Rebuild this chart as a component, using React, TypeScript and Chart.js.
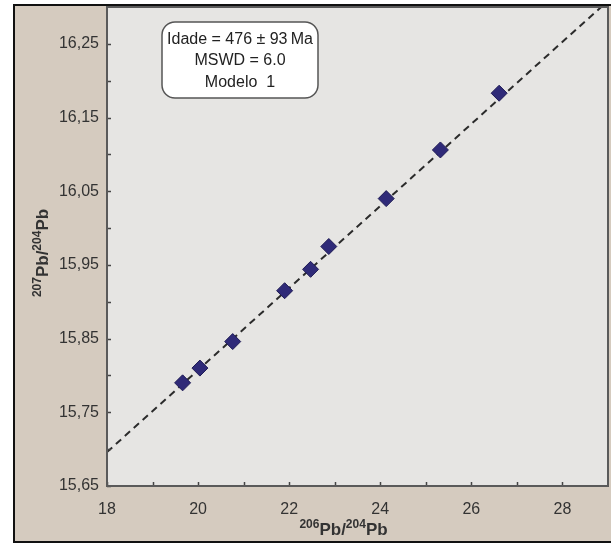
import React, { useEffect, useRef } from "react";
import { Chart, registerables } from "chart.js";

Chart.register(...registerables);

// Data
const sampleX = [19.66, 20.04, 20.76, 21.9, 22.47, 22.87, 24.13, 25.32, 26.61];
const sampleY = [15.79, 15.81, 15.846, 15.915, 15.944, 15.975, 16.04, 16.106, 16.183];

// Isochron fit line endpoints
const fitX = [18, 28.85];
const fitY = [15.696, 16.3];

// Axis ticks
const xTickValues = [18, 20, 22, 24, 26, 28];
const xMinorTicks = [19, 21, 23, 25, 27];
const yTickValues = [15.65, 15.75, 15.85, 15.95, 16.05, 16.15, 16.25];
const yMinorTicks = [15.7, 15.8, 15.9, 16.0, 16.1, 16.2];

const boxLines = ["Idade = 476 \u00b1 93\u2009Ma", "MSWD = 6.0", "Modelo  1"];

const FONT = "'Liberation Sans', Arial, sans-serif";

function drawSupTitle(ctx: CanvasRenderingContext2D, parts: { t: string; sup: boolean }[], cx: number, cy: number, rotate: boolean) {
  ctx.save();
  ctx.translate(cx, cy);
  if (rotate) ctx.rotate(-Math.PI / 2);
  const bigFont = `bold 17px ${FONT}`;
  const smallFont = `bold 12px ${FONT}`;
  let total = 0;
  const widths = parts.map((p) => {
    ctx.font = p.sup ? smallFont : bigFont;
    const w = ctx.measureText(p.t).width;
    total += w;
    return w;
  });
  let x = -total / 2;
  ctx.fillStyle = "#333";
  ctx.textBaseline = "alphabetic";
  ctx.textAlign = "left";
  parts.forEach((p, i) => {
    ctx.font = p.sup ? smallFont : bigFont;
    ctx.fillText(p.t, x, p.sup ? -1 : 6);
    x += widths[i];
  });
  ctx.restore();
}

const decorPlugin = {
  id: "decor",
  beforeDraw(chart: any) {
    const { ctx, chartArea: a, width, height } = chart;
    ctx.save();
    ctx.fillStyle = "#ffffff";
    ctx.fillRect(0, 0, width, height);
    ctx.fillStyle = "#d5cbbf";
    ctx.fillRect(14, 5, width - 14, height - 7);
    ctx.strokeStyle = "#111";
    ctx.lineWidth = 2;
    ctx.strokeRect(14, 5, width + 10, height - 7);
    ctx.fillStyle = "#e6e5e3";
    ctx.fillRect(a.left, a.top, a.right - a.left, a.bottom - a.top);
    ctx.restore();
  },
  afterDraw(chart: any) {
    const { ctx, chartArea: a } = chart;
    const xs = chart.scales.x;
    const ys = chart.scales.y;
    ctx.save();
    // tick marks, inward
    ctx.strokeStyle = "#444";
    ctx.lineWidth = 1.5;
    ctx.beginPath();
    [...xTickValues, ...xMinorTicks].forEach((v) => {
      const px = Math.round(xs.getPixelForValue(v)) + 0.5;
      ctx.moveTo(px, a.bottom);
      ctx.lineTo(px, a.bottom - 4);
    });
    [...yTickValues, ...yMinorTicks].forEach((v) => {
      const py = Math.round(ys.getPixelForValue(v)) + 0.5;
      ctx.moveTo(a.left, py);
      ctx.lineTo(a.left + 4, py);
    });
    ctx.stroke();
    // plot border
    ctx.strokeStyle = "#5a5a5a";
    ctx.lineWidth = 2;
    ctx.strokeRect(a.left, a.top, a.right - a.left, a.bottom - a.top);

    // annotation box
    const bx = 162, by = 22, bw = 156, bh = 76, r = 13;
    ctx.beginPath();
    ctx.moveTo(bx + r, by);
    ctx.arcTo(bx + bw, by, bx + bw, by + bh, r);
    ctx.arcTo(bx + bw, by + bh, bx, by + bh, r);
    ctx.arcTo(bx, by + bh, bx, by, r);
    ctx.arcTo(bx, by, bx + bw, by, r);
    ctx.closePath();
    ctx.fillStyle = "#ffffff";
    ctx.fill();
    ctx.strokeStyle = "#555";
    ctx.lineWidth = 1.5;
    ctx.stroke();
    ctx.fillStyle = "#222";
    ctx.font = `16px ${FONT}`;
    ctx.textAlign = "center";
    ctx.textBaseline = "middle";
    boxLines.forEach((t, i) => ctx.fillText(t, bx + bw / 2, 39.5 + i * 21.5));

    // axis titles
    drawSupTitle(ctx, [
      { t: "206", sup: true }, { t: "Pb/", sup: false }, { t: "204", sup: true }, { t: "Pb", sup: false },
    ], (a.left + a.right) / 2 - 14, 529, false);
    drawSupTitle(ctx, [
      { t: "207", sup: true }, { t: "Pb/", sup: false }, { t: "204", sup: true }, { t: "Pb", sup: false },
    ], 42, 253, true);
    ctx.restore();
  },
};

export default function App() {
  const ref = useRef<HTMLCanvasElement>(null);
  useEffect(() => {
    if (!ref.current) return;
    const chart = new Chart(ref.current, {
      type: "scatter",
      data: {
        datasets: [
          {
            label: "Amostras",
            data: sampleX.map((x, i) => ({ x, y: sampleY[i] })),
            pointStyle: "rectRot",
            pointRadius: 8,
            backgroundColor: "#2f2a78",
            borderColor: "#1f1b55",
            borderWidth: 1,
            order: 0,
          },
          {
            label: "Isócrona",
            data: fitX.map((x, i) => ({ x, y: fitY[i] })),
            showLine: true,
            borderColor: "#2b2b2b",
            borderWidth: 2,
            borderDash: [7, 5],
            pointRadius: 0,
            order: 1,
          } as any,
        ],
      },
      options: {
        responsive: false,
        animation: false,
        layout: { autoPadding: false, padding: { left: 0, top: 7, right: 3, bottom: 0 } },
        plugins: { legend: { display: false }, tooltip: { enabled: false } },
        scales: {
          x: {
            type: "linear",
            min: 18,
            max: 29,
            grid: { display: false, drawTicks: false },
            border: { display: false },
            afterBuildTicks: (s: any) => {
              s.ticks = xTickValues.map((v) => ({ value: v }));
            },
            afterFit: (s: any) => {
              s.height = 58;
              s.paddingLeft = 0;
              s.paddingRight = 0;
            },
            ticks: {
              padding: 14,
              color: "#333",
              font: { family: FONT, size: 16 },
              callback: (v: any) => String(v),
            },
          },
          y: {
            type: "linear",
            min: 15.65,
            max: 16.3,
            grid: { display: false, drawTicks: false },
            border: { display: false },
            afterBuildTicks: (s: any) => {
              s.ticks = yTickValues.map((v) => ({ value: v }));
            },
            afterFit: (s: any) => {
              s.width = 107;
              s.paddingTop = 0;
              s.paddingBottom = 0;
            },
            ticks: {
              padding: 8,
              color: "#333",
              font: { family: FONT, size: 16 },
              callback: (v: any) => Number(v).toFixed(2).replace(".", ","),
            },
          },
        },
      },
      plugins: [decorPlugin],
    });
    return () => chart.destroy();
  }, []);
  return (
    <div style={{ position: "fixed", left: 0, top: 0, width: 611, height: 544 }}>
      <canvas ref={ref} width={611} height={544} style={{ width: 611, height: 544, display: "block" }} />
    </div>
  );
}
